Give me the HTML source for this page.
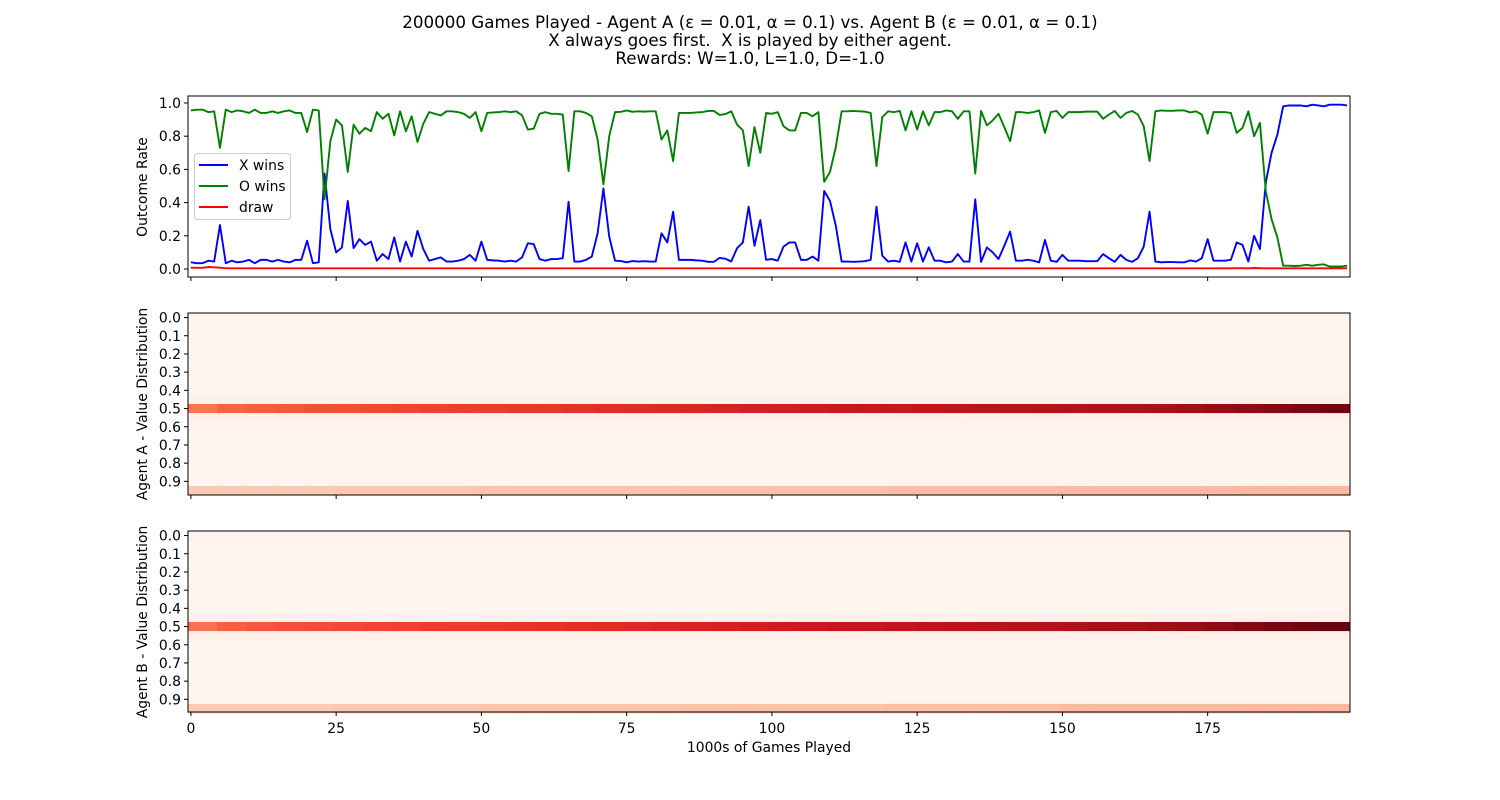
<!DOCTYPE html>
<html><head><meta charset="utf-8"><style>
body{margin:0;background:#fff}
svg{display:block;font-family:"DejaVu Sans","Liberation Sans",sans-serif}
</style></head><body>
<svg id="chart" width="1500" height="800" viewBox="0 0 1500 800" xmlns="http://www.w3.org/2000/svg">
<g font-size="16.7" text-anchor="middle" fill="#000">
<text x="750" y="28">200000 Games Played - Agent A (ε = 0.01, α = 0.1) vs. Agent B (ε = 0.01, α = 0.1)</text>
<text x="750" y="46">X always goes first.&#160; X is played by either agent.</text>
<text x="750" y="64">Rewards: W=1.0, L=1.0, D=-1.0</text>
</g>
<g id="heatA"></g>
<g id="heatB"></g>
<g id="lines"></g>
<g id="axes"></g>
</svg>
<script>
const xWins=[.04,.035,.035,.05,.045,.265,.035,.05,.04,.045,
.055,.035,.055,.055,.045,.055,.045,.04,.055,.055,
.17,.035,.04,.575,.24,.1,.13,.41,.126,.18,
.145,.165,.05,.09,.06,.19,.045,.165,.075,.23,
.12,.05,.06,.07,.045,.045,.05,.06,.085,.05,
.165,.055,.052,.05,.045,.05,.045,.07,.155,.15,
.06,.05,.06,.06,.065,.405,.045,.045,.055,.075,
.215,.485,.195,.05,.048,.04,.048,.045,.047,.045,
.045,.215,.16,.345,.055,.055,.055,.052,.05,.043,
.043,.067,.062,.045,.125,.16,.375,.14,.295,.055,
.06,.05,.135,.16,.16,.055,.055,.075,.05,.47,
.41,.26,.045,.045,.043,.045,.047,.055,.375,.08,
.045,.05,.043,.16,.045,.155,.045,.13,.05,.05,
.04,.045,.09,.045,.045,.42,.043,.13,.1,.06,
.14,.225,.05,.05,.055,.05,.04,.175,.05,.043,
.085,.05,.05,.05,.047,.047,.047,.09,.065,.043,
.085,.055,.043,.065,.135,.345,.045,.04,.042,.042,
.04,.04,.052,.045,.065,.18,.05,.05,.05,.055,
.16,.145,.045,.2,.12,.52,.70,.81,.98,.985,
.985,.985,.98,.99,.985,.98,.99,.99,.99,.985];
const oWins=[.955,.96,.96,.945,.95,.73,.96,.945,.955,.95,
.94,.96,.94,.94,.95,.94,.95,.955,.94,.94,
.825,.96,.955,.42,.77,.9,.865,.585,.869,.815,
.85,.83,.945,.905,.935,.805,.95,.83,.92,.765,
.875,.945,.935,.925,.95,.95,.945,.935,.91,.945,
.83,.94,.943,.945,.95,.945,.95,.925,.84,.845,
.935,.945,.935,.935,.93,.59,.95,.95,.94,.92,
.78,.51,.80,.945,.947,.955,.947,.95,.948,.95,
.95,.78,.835,.65,.94,.94,.94,.943,.945,.952,
.952,.928,.933,.95,.87,.835,.62,.855,.70,.94,
.935,.945,.86,.835,.835,.94,.94,.92,.945,.525,
.585,.735,.95,.95,.952,.95,.948,.94,.62,.915,
.95,.945,.952,.835,.95,.84,.95,.865,.945,.945,
.955,.95,.905,.95,.95,.575,.952,.865,.895,.935,
.855,.77,.945,.945,.94,.945,.955,.82,.945,.952,
.91,.945,.945,.945,.948,.948,.948,.905,.93,.952,
.91,.94,.952,.93,.86,.65,.95,.955,.953,.953,
.955,.955,.943,.95,.93,.815,.945,.945,.945,.94,
.82,.85,.95,.80,.88,.47,.30,.19,.02,.02,
.018,.02,.025,.02,.025,.028,.015,.015,.015,.02];
const draws=[.008,.007,.007,.012,.01,.008,.005,.004,.004,.004,
.004,.004,.004,.004,.004,.004,.004,.004,.004,.004,
.004,.004,.004,.004,.004,.004,.004,.004,.004,.004,
.004,.004,.004,.004,.004,.004,.004,.004,.004,.004,
.004,.004,.004,.004,.004,.004,.004,.004,.004,.004,
.004,.004,.004,.004,.004,.004,.004,.004,.004,.004,
.004,.004,.004,.004,.004,.004,.004,.004,.004,.004,
.004,.004,.004,.004,.004,.004,.004,.004,.004,.004,
.004,.004,.004,.004,.004,.004,.004,.004,.004,.004,
.004,.004,.004,.004,.004,.004,.004,.004,.004,.004,
.004,.004,.004,.004,.004,.004,.004,.004,.004,.004,
.004,.004,.004,.004,.004,.004,.004,.004,.004,.004,
.004,.004,.004,.004,.004,.004,.004,.004,.004,.004,
.004,.004,.004,.004,.004,.004,.004,.004,.004,.004,
.004,.004,.004,.004,.004,.004,.004,.004,.004,.004,
.004,.004,.004,.004,.004,.004,.004,.004,.004,.004,
.004,.004,.004,.004,.004,.004,.004,.004,.004,.004,
.004,.004,.004,.004,.004,.004,.004,.004,.004,.004,
.005,.005,.004,.006,.005,.004,.004,.004,.004,.004,
.004,.004,.004,.004,.004,.004,.004,.004,.004,.004];
// heatmap: each entry covers 5 consecutive columns (1000s of games)
const blockSize=5;
const heatA_mid=[.47,.52,.54,.55,.57,.58,.59,.60,.61,.62,.63,.64,.65,.66,.67,.68,.69,.70,.71,.72,.73,.74,.75,.76,.77,.78,.79,.80,.81,.82,.83,.84,.85,.86,.88,.90,.92,.94,.96,.98];
const heatB_mid=[.48,.53,.55,.57,.58,.59,.60,.61,.62,.63,.64,.65,.66,.67,.68,.69,.70,.71,.72,.73,.74,.75,.76,.77,.78,.79,.80,.81,.82,.83,.84,.86,.87,.88,.90,.92,.94,.96,.98,1.0];
const heatA_top=[.2,.2,.2,.2,.2,.21,.21,.21,.21,.21,.22,.22,.22,.22,.22,.22,.22,.23,.23,.23,.23,.23,.23,.23,.24,.24,.24,.24,.24,.24,.25,.25,.25,.25,.25,.25,.26,.26,.26,.26];
const heatB_top=heatA_top;
const heatNearMid=.03, heatBackground=.008;
const yTicksTop=["0.0","0.2","0.4","0.6","0.8","1.0"];
const yTickVals=[0,.2,.4,.6,.8,1];
const heatTicks=["0.0","0.1","0.2","0.3","0.4","0.5","0.6","0.7","0.8","0.9"];
const xTicks=[0,25,50,75,100,125,150,175];

const NS="http://www.w3.org/2000/svg";
const L=188,R=1350;
const xs=v=>L+(v+0.5)*(R-L)/200;
const ys=v=>269-(v)*166;
const FS=13.9;
function mk(tag,attrs,parent){const e=document.createElementNS(NS,tag);for(const k in attrs)e.setAttribute(k,attrs[k]);parent.appendChild(e);return e;}
const stops=[[255,245,240],[254,224,210],[252,187,161],[252,146,114],[251,106,74],[239,59,44],[203,24,29],[165,15,21],[103,0,13]];
function reds(v){v=Math.max(0,Math.min(1,v));const p=v*8,i=Math.min(7,Math.floor(p)),f=p-i;const a=stops[i],b=stops[i+1];return `rgb(${a.map((c,j)=>Math.round(c+(b[j]-c)*f)).join(',')})`;}
function heat(gid,t,mid,topRow){
  const g=document.getElementById(gid);const rh=182/20;
  for(let r=0;r<20;r++){
    for(let k=0;k<mid.length;k++){
      let v=heatBackground;
      if(r===10)v=mid[k];else if(r===9||r===11)v=heatNearMid;else if(r===19)v=topRow[k];
      const x0=xs(k*blockSize-0.5),x1=xs((k+1)*blockSize-0.5);
      const c=mk('rect',{x:x0.toFixed(2),y:(t+r*rh).toFixed(2),width:(x1-x0+0.4).toFixed(2),height:(rh+0.3).toFixed(2),fill:reds(v)},g);
      
      
    }
  }
}
heat('heatA',313,heatA_mid,heatA_top);
heat('heatB',531,heatB_mid,heatB_top);
const lg=document.getElementById('lines');
function line(arr,col,name){const p=mk('polyline',{points:arr.map((v,i)=>xs(i).toFixed(2)+','+ys(v).toFixed(2)).join(' '),fill:'none',stroke:col,'stroke-width':1.9,'stroke-linejoin':'round'},lg);

}
line(xWins,'#0000ff','x-wins-line');
line(oWins,'#008000','o-wins-line');
line(draws,'#ff0000','draw-line');
const ax=document.getElementById('axes');
function frame(t,b,name){const r=mk('rect',{x:L,y:t,width:R-L,height:b-t,fill:'none',stroke:'#000','stroke-width':1},ax);


for(const v of xTicks){const x=xs(v);mk('line',{x1:x,x2:x,y1:b,y2:b+4,stroke:'#000'},ax);}}
frame(96,277,'outcome-axes-frame');frame(313,495,'agent-a-axes-frame');frame(531,712,'agent-b-axes-frame');
yTickVals.forEach((v,i)=>{const y=ys(v);mk('line',{x1:L-4,x2:L,y1:y,y2:y,stroke:'#000'},ax);
const t=mk('text',{x:L-7,y:y+5,'font-size':FS,'text-anchor':'end'},ax);t.textContent=yTicksTop[i];

});
[313,531].forEach(t0=>heatTicks.forEach((lab,i)=>{const y=t0+(2*i+0.5)*9.1;mk('line',{x1:L-4,x2:L,y1:y,y2:y,stroke:'#000'},ax);
const t=mk('text',{x:L-7,y:y+5,'font-size':FS,'text-anchor':'end'},ax);t.textContent=lab;

}));
xTicks.forEach(v=>{const x=xs(v);const t=mk('text',{x:x,y:733,'font-size':FS,'text-anchor':'middle'},ax);t.textContent=v;

});
function ylab(txt,cy,name){const t=mk('text',{x:0,y:0,'font-size':FS,'text-anchor':'middle',transform:`translate(147,${cy}) rotate(-90)`},ax);t.textContent=txt;

}
ylab('Outcome Rate',187,'y-axis-title-outcome');ylab('Agent A - Value Distribution',404,'y-axis-title-agent-a');ylab('Agent B - Value Distribution',622,'y-axis-title-agent-b');
const xl=mk('text',{x:769,y:752,'font-size':FS,'text-anchor':'middle'},ax);xl.textContent='1000s of Games Played';


const lgd=mk('g',{},ax);


mk('rect',{x:194.5,y:153.5,width:96,height:66,rx:3,fill:'#fff','fill-opacity':0.85,stroke:'#ccc'},lgd);
[['X wins','#0000ff'],['O wins','#008000'],['draw','#ff0000']].forEach((e,i)=>{const y=165+i*21;
const ent=mk('g',{},lgd);


mk('line',{x1:199,x2:228,y1:y,y2:y,stroke:e[1],'stroke-width':1.9},ent);
const t=mk('text',{x:239,y:y+5,'font-size':FS},ent);t.textContent=e[0];});
</script>
</body></html>
